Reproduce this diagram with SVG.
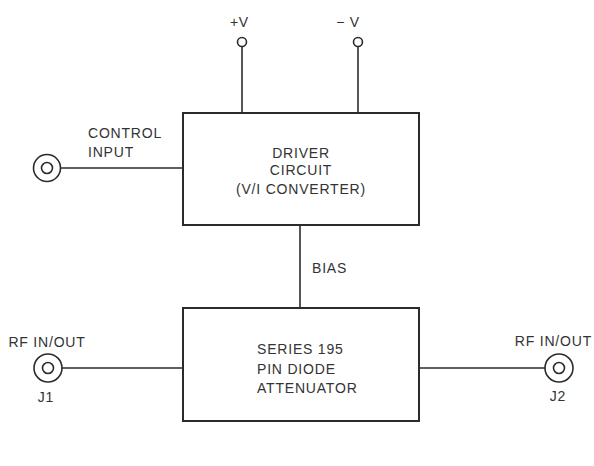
<svg xmlns="http://www.w3.org/2000/svg" width="594" height="466" viewBox="0 0 594 466">
<style>
.bx{fill:none;stroke:#2b2b2b;stroke-width:2}
.ln{fill:none;stroke:#2b2b2b;stroke-width:1.6}
.cx{fill:none;stroke:#2b2b2b;stroke-width:1.6}
text{font-family:"Liberation Sans",Arial,sans-serif;font-size:14px;fill:#333;letter-spacing:0.8px}
</style>
<rect width="594" height="466" fill="#fff"/>
<g id="connectors">
<line class="ln" x1="242" y1="47" x2="242" y2="113"/>
<line class="ln" x1="358" y1="47" x2="358" y2="113"/>
<line class="ln" x1="60" y1="168" x2="183" y2="168"/>
<line class="ln" x1="300" y1="225" x2="300" y2="308"/>
<line class="ln" x1="62" y1="368" x2="183" y2="368"/>
<line class="ln" x1="419" y1="368" x2="545" y2="368"/>
<text x="312" y="273">BIAS</text>
</g>
<g id="plusV">
<circle class="cx" cx="242" cy="42" r="4.5"/>
<text x="249" y="27" text-anchor="end">+V</text>
</g>
<g id="minusV">
<circle class="cx" cx="358" cy="42" r="4.5"/>
<text x="360" y="27" text-anchor="end">− V</text>
</g>
<g id="control-input">
<circle class="cx" cx="47" cy="168" r="13.5"/>
<circle class="cx" cx="47" cy="168" r="5.5"/>
<text x="88" y="138">CONTROL</text>
<text x="88" y="157">INPUT</text>
</g>
<g id="driver">
<rect class="bx" x="183" y="113" width="236" height="112"/>
<text x="301" y="158" text-anchor="middle">DRIVER</text>
<text x="301" y="175" text-anchor="middle">CIRCUIT</text>
<text x="301" y="194" text-anchor="middle">(V/I CONVERTER)</text>
</g>
<g id="attenuator">
<rect class="bx" x="183" y="308" width="236" height="113"/>
<text x="257" y="354">SERIES 195</text>
<text x="257" y="374">PIN DIODE</text>
<text x="257" y="393">ATTENUATOR</text>
</g>
<g id="J1">
<circle class="cx" cx="48" cy="368" r="14"/>
<circle class="cx" cx="48" cy="368" r="5.5"/>
<text x="47" y="347" text-anchor="middle">RF IN/OUT</text>
<text x="46" y="402" text-anchor="middle">J1</text>
</g>
<g id="J2">
<circle class="cx" cx="559" cy="368" r="14"/>
<circle class="cx" cx="559" cy="368" r="5.5"/>
<text x="592" y="346" text-anchor="end">RF IN/OUT</text>
<text x="558" y="401" text-anchor="middle">J2</text>
</g>
</svg>
